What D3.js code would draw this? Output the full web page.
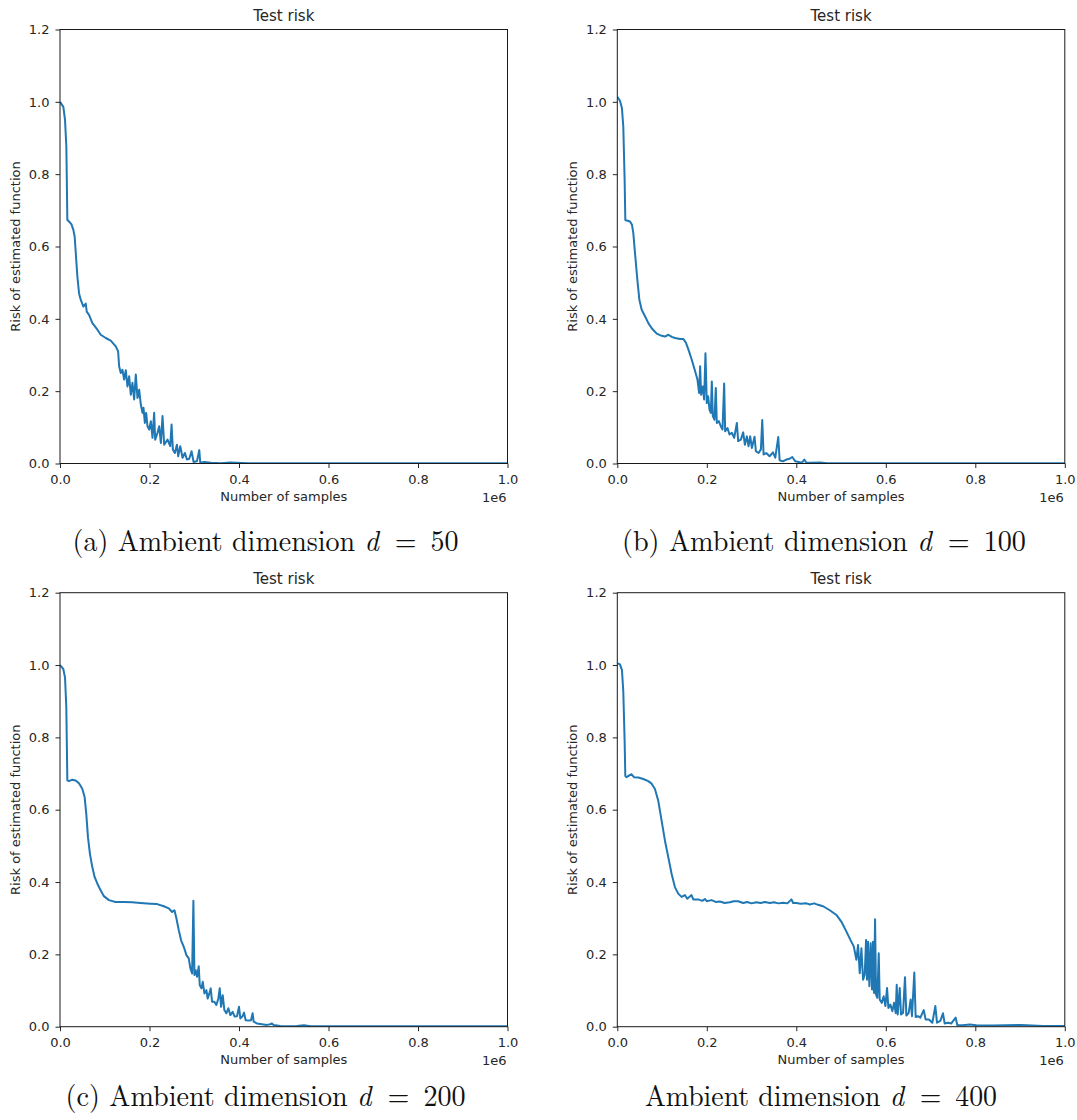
<!DOCTYPE html>
<html>
<head>
<meta charset="utf-8">
<script src="https://cdn.jsdelivr.net/npm/d3@7"></script>
<style>
  html, body { margin: 0; padding: 0; background: #ffffff; }
  svg { display: block; }
</style>
</head>
<body>
<div id="chart"></div>
<script>
// ---------------- DATA (x in units of 1e6 samples, y = test risk) ----------------
const xTicks = [0.0, 0.2, 0.4, 0.6, 0.8, 1.0];
const yTicks = [0.0, 0.2, 0.4, 0.6, 0.8, 1.0, 1.2];
const xTickLabels = ["0.0", "0.2", "0.4", "0.6", "0.8", "1.0"];
const yTickLabels = ["0.0", "0.2", "0.4", "0.6", "0.8", "1.0", "1.2"];

const titleText = "Test risk";
const xLabelText = "Number of samples";
const yLabelText = "Risk of estimated function";
const offsetText = "1e6";

const captionPrefix = ["(a) Ambient dimension ", "(b) Ambient dimension ", "(c) Ambient dimension ", "Ambient dimension "];
const captionDims = ["50", "100", "200", "400"];

// d = 50
const xD50 = [0, 0.0075, 0.0112, 0.0142, 0.0164, 0.018, 0.0254, 0.0299, 0.0328, 0.0358, 0.0388, 0.0425, 0.0463, 0.0522, 0.0575, 0.0597, 0.0649, 0.0724, 0.0836, 0.091, 0.1022, 0.1134, 0.1246, 0.1299, 0.1321, 0.1358, 0.1396, 0.1433, 0.147, 0.1507, 0.1545, 0.1582, 0.1619, 0.1657, 0.1694, 0.1731, 0.1769, 0.1806, 0.1843, 0.1866, 0.1896, 0.1925, 0.1955, 0.1993, 0.203, 0.2067, 0.2104, 0.2127, 0.2179, 0.2216, 0.2254, 0.2291, 0.2328, 0.2403, 0.2463, 0.2493, 0.2522, 0.2567, 0.2612, 0.2642, 0.2687, 0.2739, 0.2791, 0.2836, 0.2888, 0.294, 0.2985, 0.306, 0.3112, 0.3134, 0.3224, 0.3373, 0.3597, 0.38, 0.42, 0.5, 0.6, 0.7, 0.8, 0.9, 1.0];
const riskD50 = [1.000, 0.986, 0.950, 0.876, 0.673, 0.672, 0.662, 0.646, 0.627, 0.572, 0.517, 0.471, 0.453, 0.434, 0.442, 0.420, 0.411, 0.388, 0.370, 0.356, 0.347, 0.340, 0.324, 0.310, 0.269, 0.250, 0.259, 0.232, 0.258, 0.213, 0.241, 0.190, 0.223, 0.177, 0.246, 0.181, 0.204, 0.163, 0.140, 0.154, 0.112, 0.140, 0.103, 0.094, 0.117, 0.071, 0.140, 0.066, 0.085, 0.103, 0.057, 0.131, 0.052, 0.066, 0.048, 0.108, 0.039, 0.029, 0.052, 0.020, 0.048, 0.016, 0.029, 0.011, 0.013, 0.034, 0.004, 0.006, 0.037, 0.002, 0.004, 0.002, 0.001, 0.003, 0.001, 0.001, 0.001, 0.001, 0.001, 0.001, 0.001];

// d = 100
const xD100 = [0, 0.006, 0.0104, 0.0134, 0.0164, 0.0179, 0.0209, 0.0284, 0.0328, 0.0358, 0.0396, 0.0448, 0.0493, 0.0545, 0.0619, 0.0694, 0.0769, 0.0881, 0.0993, 0.1067, 0.1142, 0.1216, 0.1291, 0.1403, 0.1478, 0.1537, 0.159, 0.1664, 0.1739, 0.1791, 0.1828, 0.1851, 0.1873, 0.191, 0.194, 0.197, 0.2, 0.203, 0.206, 0.209, 0.2112, 0.2134, 0.2172, 0.2201, 0.2224, 0.2269, 0.2313, 0.2351, 0.2388, 0.241, 0.2463, 0.2507, 0.256, 0.2612, 0.2672, 0.2701, 0.2761, 0.2813, 0.2851, 0.2896, 0.2933, 0.297, 0.3007, 0.3067, 0.3097, 0.3157, 0.3209, 0.3239, 0.3269, 0.3328, 0.3403, 0.3478, 0.353, 0.3597, 0.3627, 0.3701, 0.3776, 0.3851, 0.391, 0.3978, 0.4052, 0.4127, 0.4179, 0.4224, 0.4313, 0.4537, 0.4687, 0.55, 0.7, 0.85, 1.0];
const riskD100 = [1.014, 1.003, 0.982, 0.931, 0.784, 0.673, 0.672, 0.669, 0.660, 0.637, 0.581, 0.508, 0.453, 0.425, 0.407, 0.388, 0.374, 0.359, 0.353, 0.351, 0.356, 0.350, 0.347, 0.344, 0.344, 0.333, 0.315, 0.287, 0.255, 0.232, 0.195, 0.269, 0.190, 0.213, 0.177, 0.305, 0.167, 0.186, 0.149, 0.140, 0.227, 0.131, 0.121, 0.209, 0.112, 0.117, 0.103, 0.094, 0.221, 0.089, 0.098, 0.080, 0.085, 0.071, 0.112, 0.062, 0.066, 0.086, 0.052, 0.075, 0.048, 0.075, 0.043, 0.074, 0.034, 0.029, 0.039, 0.120, 0.025, 0.029, 0.020, 0.031, 0.016, 0.073, 0.009, 0.006, 0.011, 0.013, 0.018, 0.006, 0.004, 0.002, 0.011, 0.002, 0.002, 0.003, 0.001, 0.001, 0.001, 0.001, 0.001];

// d = 200
const xD200 = [0, 0.0074, 0.0112, 0.0141, 0.0164, 0.0201, 0.0275, 0.0349, 0.0424, 0.0498, 0.055, 0.0587, 0.0625, 0.0669, 0.0721, 0.0773, 0.0833, 0.0907, 0.0981, 0.1093, 0.1242, 0.1428, 0.1613, 0.1799, 0.2022, 0.2171, 0.232, 0.2431, 0.2506, 0.2558, 0.2602, 0.2654, 0.2706, 0.2766, 0.2825, 0.2877, 0.2914, 0.2952, 0.2981, 0.3004, 0.3033, 0.3063, 0.31, 0.3123, 0.316, 0.319, 0.3227, 0.3271, 0.3301, 0.3338, 0.3368, 0.3398, 0.345, 0.3494, 0.3539, 0.3569, 0.3599, 0.3636, 0.3673, 0.3717, 0.3762, 0.3807, 0.3859, 0.3903, 0.3955, 0.4, 0.403, 0.4074, 0.4112, 0.4149, 0.4216, 0.4268, 0.4305, 0.4327, 0.4401, 0.4513, 0.4625, 0.4699, 0.4736, 0.4773, 0.4922, 0.5071, 0.5294, 0.545, 0.56, 0.7, 0.85, 1.0];
const riskD200 = [1.000, 0.989, 0.966, 0.883, 0.681, 0.679, 0.683, 0.681, 0.673, 0.658, 0.635, 0.589, 0.524, 0.478, 0.442, 0.414, 0.396, 0.377, 0.361, 0.350, 0.345, 0.345, 0.344, 0.342, 0.340, 0.339, 0.333, 0.327, 0.317, 0.322, 0.299, 0.267, 0.239, 0.221, 0.198, 0.189, 0.161, 0.147, 0.348, 0.143, 0.156, 0.138, 0.167, 0.115, 0.106, 0.124, 0.092, 0.101, 0.078, 0.092, 0.106, 0.069, 0.069, 0.060, 0.078, 0.106, 0.055, 0.087, 0.046, 0.037, 0.051, 0.032, 0.041, 0.028, 0.029, 0.055, 0.023, 0.028, 0.039, 0.018, 0.017, 0.018, 0.037, 0.014, 0.009, 0.007, 0.005, 0.007, 0.009, 0.005, 0.002, 0.001, 0.002, 0.004, 0.001, 0.001, 0.001, 0.001];

// d = 400
const xD400 = [0, 0.006, 0.0104, 0.0134, 0.0164, 0.0179, 0.0208, 0.0268, 0.032, 0.0372, 0.0469, 0.058, 0.0692, 0.0767, 0.0841, 0.0915, 0.099, 0.1064, 0.1139, 0.1213, 0.1287, 0.1362, 0.1436, 0.1511, 0.1563, 0.1659, 0.1697, 0.1808, 0.19, 0.1957, 0.2, 0.2106, 0.22, 0.2292, 0.24, 0.2515, 0.26, 0.2701, 0.2813, 0.29, 0.30, 0.311, 0.32, 0.33, 0.3408, 0.35, 0.36, 0.3706, 0.38, 0.3892, 0.3929, 0.40, 0.41, 0.4227, 0.43, 0.44, 0.4487, 0.4599, 0.4748, 0.4897, 0.5009, 0.512, 0.5209, 0.5284, 0.5343, 0.538, 0.5418, 0.5455, 0.5492, 0.5529, 0.5559, 0.5581, 0.5603, 0.5633, 0.5663, 0.5693, 0.5715, 0.5737, 0.576, 0.5782, 0.5811, 0.5842, 0.5864, 0.5908, 0.5953, 0.5991, 0.6028, 0.6058, 0.6102, 0.6147, 0.6184, 0.6221, 0.6244, 0.6266, 0.6311, 0.634, 0.6385, 0.6429, 0.6459, 0.6511, 0.6555, 0.6585, 0.6637, 0.6667, 0.672, 0.6772, 0.6847, 0.6891, 0.6965, 0.704, 0.7107, 0.7144, 0.7219, 0.7278, 0.7315, 0.739, 0.7464, 0.7561, 0.7598, 0.7725, 0.7874, 0.8022, 0.8394, 0.9027, 0.951, 1.0];
const riskD400 = [1.005, 1.002, 0.986, 0.927, 0.789, 0.693, 0.690, 0.695, 0.698, 0.690, 0.689, 0.685, 0.679, 0.672, 0.657, 0.625, 0.570, 0.515, 0.469, 0.423, 0.386, 0.368, 0.359, 0.364, 0.354, 0.364, 0.352, 0.352, 0.348, 0.353, 0.347, 0.350, 0.345, 0.346, 0.342, 0.344, 0.347, 0.347, 0.342, 0.345, 0.341, 0.344, 0.342, 0.345, 0.342, 0.344, 0.341, 0.343, 0.341, 0.352, 0.342, 0.342, 0.340, 0.341, 0.338, 0.341, 0.337, 0.333, 0.322, 0.309, 0.290, 0.263, 0.240, 0.222, 0.185, 0.226, 0.148, 0.217, 0.130, 0.144, 0.240, 0.130, 0.235, 0.112, 0.231, 0.103, 0.235, 0.093, 0.297, 0.089, 0.080, 0.203, 0.075, 0.066, 0.084, 0.057, 0.107, 0.052, 0.061, 0.043, 0.066, 0.038, 0.116, 0.034, 0.107, 0.034, 0.038, 0.137, 0.031, 0.038, 0.075, 0.029, 0.150, 0.027, 0.029, 0.025, 0.046, 0.020, 0.020, 0.011, 0.057, 0.011, 0.016, 0.037, 0.009, 0.011, 0.009, 0.025, 0.004, 0.004, 0.006, 0.004, 0.003, 0.005, 0.002, 0.002];

const seriesX = [xD50, xD100, xD200, xD400];
const seriesY = [riskD50, riskD100, riskD200, riskD400];

// ---------------- LAYOUT ----------------
const W = 1077, H = 1120;
const panelW = 447.5, panelH = 434;
const panels = [
  { left: 60,    top: 29.5,  capX: 265.6, capY: 551,  capW: 386 },
  { left: 617.3, top: 29.5,  capX: 824,   capY: 551,  capW: 404 },
  { left: 60,    top: 592.7, capX: 265.6, capY: 1106, capW: 400 },
  { left: 617.3, top: 592.7, capX: 821,   capY: 1106, capW: 352 }
];
const lineColor = "#1f77b4";
const inkColor = "#262626";
const sansFont = "'DejaVu Sans', sans-serif";
const serifFont = "'Latin Modern Roman', 'CMU Serif', 'Liberation Serif', 'DejaVu Serif', serif";

const svg = d3.select("#chart").append("svg")
  .attr("width", W).attr("height", H)
  .attr("viewBox", `0 0 ${W} ${H}`);
svg.append("rect").attr("width", W).attr("height", H).attr("fill", "#ffffff");

panels.forEach((p, i) => {
  const x = d3.scaleLinear().domain([0, 1]).range([0, panelW]);
  const y = d3.scaleLinear().domain([0, 1.2]).range([panelH, 0]);
  const g = svg.append("g").attr("transform", `translate(${p.left},${p.top})`);

  const clipId = `clip${i}`;
  g.append("clipPath").attr("id", clipId)
    .append("rect").attr("x", 0).attr("y", 0).attr("width", panelW).attr("height", panelH);

  const data = seriesX[i].map((xv, k) => [xv, seriesY[i][k]]);
  const line = d3.line().x(d => x(d[0])).y(d => y(d[1]));
  g.append("path")
    .datum(data)
    .attr("clip-path", `url(#${clipId})`)
    .attr("d", line)
    .attr("fill", "none")
    .attr("stroke", lineColor)
    .attr("stroke-width", 2)
    .attr("stroke-linejoin", "round")
    .attr("stroke-linecap", "butt");

  // axes
  const xAxis = d3.axisBottom(x).tickValues(xTicks)
    .tickFormat((d, k) => xTickLabels[k]).tickSize(4.5).tickSizeOuter(0).tickPadding(6.8);
  const yAxis = d3.axisLeft(y).tickValues(yTicks)
    .tickFormat((d, k) => yTickLabels[k]).tickSize(4.5).tickSizeOuter(0).tickPadding(6);

  const gx = g.append("g").attr("transform", `translate(0,${panelH})`).call(xAxis);
  const gy = g.append("g").call(yAxis);
  [gx, gy].forEach(ax => {
    ax.select(".domain").remove();
    ax.selectAll(".tick line").attr("stroke", inkColor).attr("stroke-width", 1);
    ax.selectAll(".tick text").attr("fill", inkColor)
      .style("font-family", sansFont).style("font-size", "13px");
  });

  // spines
  g.append("rect")
    .attr("x", 0).attr("y", 0).attr("width", panelW).attr("height", panelH)
    .attr("fill", "none").attr("stroke", "#1a1a1a").attr("stroke-width", 1);

  // title
  g.append("text")
    .attr("x", panelW / 2).attr("y", -8.5)
    .attr("text-anchor", "middle")
    .attr("fill", inkColor)
    .style("font-family", sansFont).style("font-size", "15px")
    .text(titleText);

  // x label
  g.append("text")
    .attr("x", panelW / 2).attr("y", panelH + 37)
    .attr("text-anchor", "middle")
    .attr("fill", inkColor)
    .style("font-family", sansFont).style("font-size", "13px")
    .text(xLabelText);

  // offset text
  g.append("text")
    .attr("x", panelW - 1).attr("y", panelH + 38)
    .attr("text-anchor", "end")
    .attr("fill", inkColor)
    .style("font-family", sansFont).style("font-size", "13px")
    .text(offsetText);

  // y label
  g.append("text")
    .attr("transform", `translate(-40,${panelH / 2}) rotate(-90)`)
    .attr("x", 0).attr("y", 0)
    .attr("text-anchor", "middle")
    .attr("fill", inkColor)
    .style("font-family", sansFont).style("font-size", "13px")
    .text(yLabelText);

  // caption: three separate text pieces laid out in sequence, then stretched to the measured width
  const capG = svg.append("g");
  const pieces = [
    { t: captionPrefix[i], italic: false },
    { t: "d", italic: true },
    { t: "\u00a0=\u00a0" + captionDims[i], italic: false }
  ];
  let cursor = 0;
  pieces.forEach(pc => {
    const tx = capG.append("text")
      .attr("x", cursor).attr("y", 0)
      .attr("fill", "#111")
      .style("font-family", serifFont).style("font-size", "29px")
      .style("font-style", pc.italic ? "italic" : "normal")
      .style("white-space", "pre")
      .text(pc.t);
    cursor += tx.node().getComputedTextLength() + (pc.italic ? 2 : 0);
  });
  const sx = p.capW / cursor;
  capG.attr("transform", `translate(${p.capX - p.capW / 2},${p.capY}) scale(${sx},1)`);
});
</script>
</body>
</html>
